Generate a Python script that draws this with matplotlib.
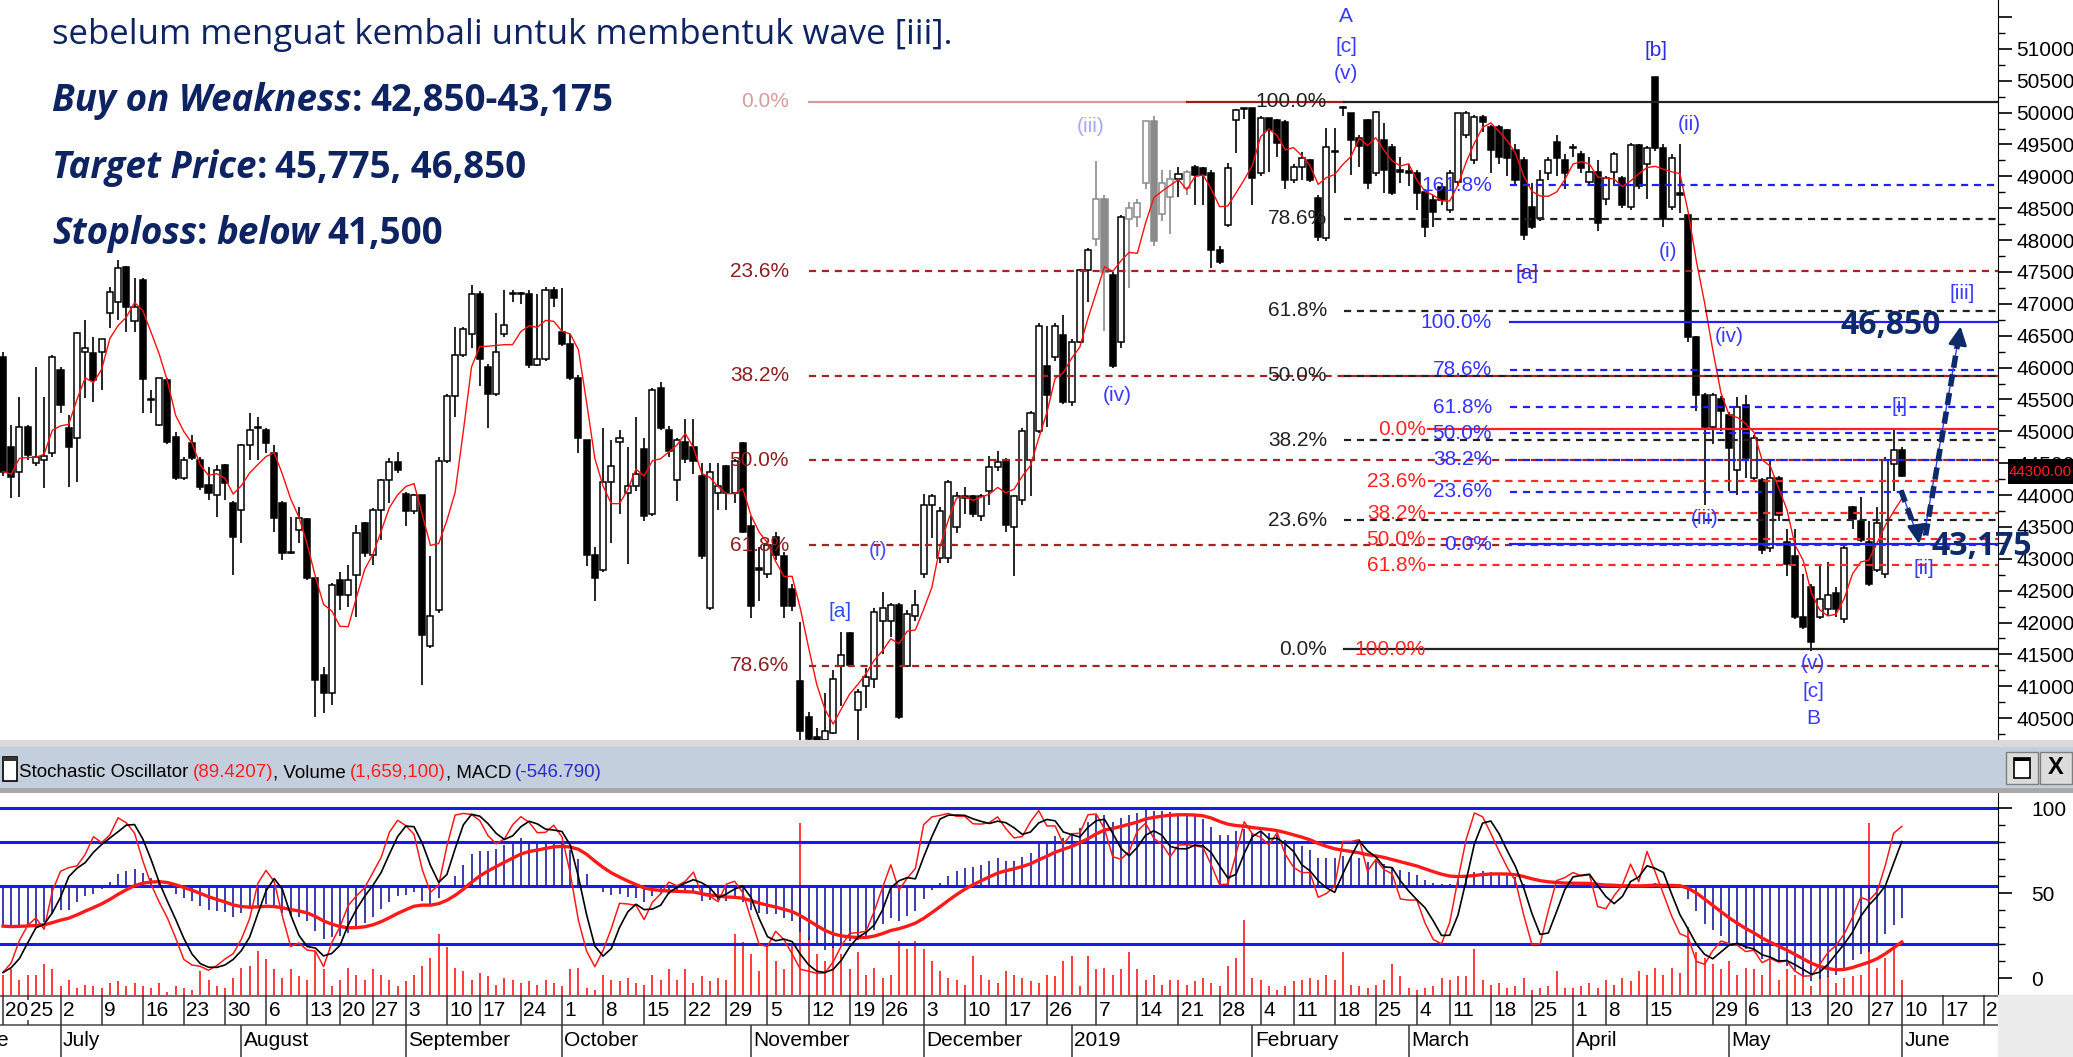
import numpy as np
import pandas as pd
import matplotlib
matplotlib.use('Agg')
import matplotlib.pyplot as plt
from matplotlib.patches import Rectangle
from matplotlib.text import Annotation
from matplotlib import font_manager

# ---------------- data: one entry per trading day, 20 Jun 2018 .. 10 Jun 2019 ----------------
opens = [
    46171, 44759, 44367, 45073, 44497, 44550, 44654, 45962, 45047, 44890,
    46250, 46224, 46250, 46851, 47034, 47583, 46736, 47374, 45491, 45099,
    45805, 44916, 44262, 44812, 44550, 44158, 43995, 44470, 43870, 43766,
    44785, 45047, 45021, 44655, 43870, 43086, 43452, 43620, 42693, 41177,
    40889, 42667, 42432, 42746, 43556, 43060, 43766, 44236, 44524, 44010,
    43757, 44000, 41624, 42195, 44539, 45560, 46191, 46522, 47153, 46011,
    45590, 46522, 47153, 47150, 47153, 46041, 46131, 47213, 46552, 46372,
    45831, 44870, 43066, 42826, 44209, 44840, 44028, 44148, 44720, 43700,
    45680, 45020, 44238, 44840, 44750, 44298, 42225, 44028, 44449, 44028,
    44810, 43517, 42860, 42766, 43336, 43036, 42525, 41083, 40520, 40200,
    40150, 40272, 41323, 41828, 40622, 41008, 41113, 42025, 42017, 42270,
    41323, 42095, 42760, 43847, 43006, 43006, 43496, 43987, 43987, 43672,
    44057, 44442, 44547, 43496, 43917, 44547, 45003, 46020, 46160, 46510,
    45459, 46405, 47527, 48017, 48649, 47457, 46405, 48333, 48368, 48894,
    49876, 48403, 48684, 48964, 48824, 49152, 49126, 49048, 47845, 48237,
    49885, 50060, 50068, 49048, 49911, 49880, 49859, 48943, 49152, 49257,
    48655, 48028, 49388, 50068, 49989, 49600, 49884, 49048, 49571, 49466,
    49100, 49080, 49048, 48760, 48630, 48838, 48472, 48916, 49650, 49257,
    49937, 49780, 49780, 49728, 49414, 49257, 48525, 48342, 49048, 49545,
    49257, 49466, 49353, 48905, 49065, 48649, 49065, 48969, 48521, 49494,
    49193, 50557, 49449, 48521, 48745, 48393, 46472, 45575, 45063, 45500,
    45255, 44390, 45415, 44262, 44230, 43173, 44262, 43269, 43045, 42085,
    42565, 42085, 42213, 42469, 42053, 43814, 43590, 43269, 42821, 42757,
    44486, 44710]
highs = [
    46250, 45100, 45544, 45100, 46010, 45544, 46200, 46015, 45256, 46560,
    46746, 46485, 46450, 47270, 47688, 47600, 47400, 47400, 45648, 45840,
    45830, 44995, 44600, 44942, 44600, 44445, 44470, 44480, 43900, 44800,
    45282, 45230, 45050, 44785, 43900, 43660, 43817, 43640, 42700, 41300,
    42615, 42800, 42900, 43530, 43580, 43800, 44250, 44576, 44680, 44050,
    44010, 44000, 43036, 44600, 45580, 46642, 46642, 47303, 47200, 46050,
    46853, 47213, 47213, 47180, 47213, 47153, 47270, 47270, 47243, 46522,
    45880, 44870, 43186, 45050, 44870, 45020, 44750, 45230, 44900, 45680,
    45770, 45080, 44900, 45200, 45200, 44500, 44500, 44509, 44470, 44560,
    44840, 43667, 43186, 43240, 43420, 43100, 42600, 42015, 40600, 40340,
    40900, 41253, 41849, 41849, 40950, 41288, 42235, 42480, 42300, 42300,
    42200, 42515, 44022, 44022, 43812, 44240, 44050, 44127, 44000, 44022,
    44617, 44687, 44580, 44000, 45050, 45320, 46700, 46650, 46700, 46826,
    46450, 47550, 47870, 49244, 48700, 47500, 48400, 48600, 48650, 49876,
    49950, 49100, 49100, 49140, 49100, 49180, 49140, 49100, 47900, 49205,
    50060, 50080, 50080, 49950, 49920, 49900, 49880, 49200, 49388, 49280,
    48700, 49754, 49754, 50100, 50000, 49650, 49900, 50030, 49830, 49500,
    49300, 49200, 49100, 48800, 48700, 48900, 49100, 50000, 50020, 49960,
    49960, 49800, 49800, 49750, 49500, 49300, 48900, 49100, 49300, 49650,
    49350, 49500, 49400, 49300, 49250, 49000, 49380, 49000, 49520, 49500,
    49480, 50557, 49500, 49353, 49513, 48393, 46500, 45600, 45600, 45550,
    45300, 45543, 45575, 44950, 44262, 44550, 44300, 43461, 43461, 42757,
    42600, 42885, 42949, 42565, 43200, 43830, 43973, 43590, 43814, 44600,
    45031, 44750]
lows = [
    44300, 43949, 43975, 44550, 44450, 44105, 44600, 45282, 44132, 44210,
    45518, 45465, 45650, 46616, 46746, 46564, 46564, 45282, 45282, 45090,
    44800, 44240, 44230, 44550, 44080, 43922, 43661, 43922, 42746, 43243,
    44550, 44550, 44655, 43425, 42980, 43080, 43243, 42670, 40523, 40575,
    40706, 42200, 42250, 42090, 43030, 42900, 43295, 43870, 44340, 43520,
    43700, 41023, 41600, 42150, 44500, 45230, 46160, 46312, 45711, 45050,
    45560, 46480, 47030, 47000, 46000, 46020, 46100, 46950, 46342, 45800,
    44659, 42886, 42345, 42800, 43246, 43700, 42926, 44060, 43600, 43670,
    45020, 44600, 43900, 44510, 44330, 43000, 42200, 43760, 43760, 43880,
    43400, 42075, 42345, 42700, 42980, 42075, 42180, 40062, 40080, 40060,
    40050, 40250, 40693, 41300, 40096, 40657, 40972, 41500, 41779, 40480,
    41300, 42020, 42700, 43321, 42935, 42935, 43400, 43700, 43650, 43600,
    43847, 44370, 43420, 42725, 43850, 43987, 44980, 45073, 46100, 45424,
    45400, 46380, 47036, 47900, 46580, 46000, 46300, 47246, 48200, 48800,
    47913, 48300, 48088, 48684, 48700, 48551, 48551, 47557, 47620, 48200,
    49362, 49900, 48551, 49000, 49074, 49300, 48800, 48900, 48943, 48917,
    47990, 47980, 48734, 49950, 49022, 49150, 48800, 49000, 48734, 48700,
    48900, 48850, 48472, 48054, 48200, 48550, 48420, 48850, 49600, 49200,
    49700, 49050, 49200, 49000, 48850, 48000, 48180, 48300, 48950, 49000,
    48800, 49300, 49050, 48850, 48137, 48550, 48850, 48500, 48480, 48800,
    48650, 49400, 48200, 48480, 48425, 46400, 45318, 43846, 44800, 45000,
    44070, 44006, 44262, 44200, 43077, 43100, 43600, 42725, 42053, 41900,
    41560, 42053, 42100, 42085, 42000, 43461, 43269, 42580, 42800, 42700,
    44070, 44280]
closes = [
    44367, 44289, 45073, 44628, 44600, 44611, 46171, 45413, 44759, 46548,
    46300, 45805, 46443, 47191, 47557, 46956, 46956, 45821, 45500, 45831,
    44838, 44262, 44550, 44576, 44132, 44027, 44393, 44184, 43347, 44785,
    45021, 45060, 44812, 43635, 43086, 43100, 43635, 42694, 41098, 40889,
    42589, 42432, 42667, 43400, 43086, 43766, 44236, 44524, 44393, 43750,
    43998, 41805, 42105, 44539, 45560, 46191, 46612, 47153, 46131, 45590,
    46252, 46672, 47160, 47153, 46041, 46131, 47213, 47093, 46372, 45831,
    44899, 43066, 42706, 44209, 44449, 44900, 44148, 44329, 43667, 45651,
    45050, 44690, 44870, 44570, 44540, 43036, 44359, 44148, 44028, 44539,
    43427, 42255, 42830, 43216, 43066, 42255, 42255, 40292, 40180, 40150,
    40300, 41113, 41498, 41337, 40903, 41148, 42165, 42235, 42270, 40517,
    42130, 42270, 43847, 43987, 43742, 44197, 43987, 43950, 43707, 43987,
    44442, 44512, 43531, 43987, 45003, 45284, 46650, 45564, 46650, 45459,
    46405, 47527, 47843, 48649, 47492, 46020, 48368, 48508, 48578, 49876,
    47983, 48894, 48964, 49034, 49069, 49022, 49022, 47845, 47662, 49126,
    50042, 50068, 48969, 49911, 49728, 49519, 48943, 49152, 49283, 48943,
    48054, 49466, 49400, 50075, 49571, 49480, 48891, 50015, 49100, 48734,
    49074, 49060, 48734, 48211, 48446, 48629, 49048, 49990, 50000, 49937,
    49858, 49414, 49309, 49283, 48943, 48080, 48211, 48943, 49257, 49283,
    49048, 49440, 49129, 49065, 48265, 48969, 49353, 48553, 49494, 48841,
    49449, 49449, 48329, 49290, 48700, 46472, 45575, 45063, 45575, 45318,
    44743, 45383, 44582, 44902, 43141, 44262, 43686, 42917, 42085, 41925,
    41700, 42373, 42437, 42213, 43173, 43621, 43301, 42597, 43558, 44550,
    44710, 44300]
volume_k = [
    2210, 2760, 1660, 2210, 2210, 3310, 2760, 920, 1660, 740,
    1100, 920, 740, 1290, 1470, 920, 1290, 920, 740, 1290,
    370, 920, 740, 550, 2580, 1660, 920, 740, 1840, 2940,
    3130, 4780, 3860, 2760, 1840, 2760, 2020, 1660, 4780, 2760,
    920, 1660, 2940, 2210, 1660, 2760, 2210, 1660, 920, 1470,
    2210, 3130, 4050, 6620, 5150, 2940, 2580, 1660, 2390, 2020,
    1100, 1840, 1660, 1290, 1470, 1100, 1660, 1290, 920, 2760,
    2940, 740, 550, 2210, 1660, 1470, 1840, 1290, 1100, 2210,
    1660, 2760, 1660, 2760, 1290, 2020, 1470, 1840, 1660, 6620,
    5700, 4420, 2580, 5150, 3680, 2760, 5520, 18580, 6260, 4420,
    3680, 5890, 4420, 2760, 4600, 2210, 2940, 1840, 2210, 5890,
    4970, 5890, 4970, 3680, 2580, 1840, 1660, 1100, 4230, 2210,
    1660, 1290, 2580, 2210, 1840, 1470, 1290, 2210, 2020, 3680,
    4230, 920, 4230, 2760, 2940, 2210, 2760, 4600, 2760, 1660,
    2210, 1100, 1660, 1660, 1100, 1470, 1840, 1290, 920, 3130,
    4050, 8100, 1840, 1660, 920, 550, 920, 1470, 1660, 1840,
    1660, 2210, 1660, 4600, 1100, 920, 740, 1100, 1660, 3310,
    2020, 740, 550, 740, 920, 1840, 1660, 2020, 2020, 4970,
    1660, 1100, 1290, 740, 920, 1840, 550, 740, 920, 2580,
    740, 740, 920, 1290, 740, 1660, 1100, 1840, 1470, 2580,
    2210, 2940, 2210, 2940, 2390, 7360, 4600, 4050, 3310, 2760,
    3680, 2210, 2940, 2760, 2210, 4050, 1660, 2760, 2210, 3310,
    920, 2210, 2020, 1290, 1840, 2020, 2210, 18580, 2940, 4050,
    5520, 1659]
gray_bars = [133, 134, 137, 138, 139, 140, 141, 142, 144]

# indicator state at the left edge of the window
ema12_start, ema26_start, signal_start = 45400, 46090, -700

# calendar axis (trading-day index)
week_ticks = [0, 3, 7, 12, 17, 22, 27, 32, 37, 41, 45, 49, 54, 58, 63, 68, 73, 78, 83, 88,
              93, 98, 103, 107, 112, 117, 122, 127, 133, 138, 143, 148, 153, 157, 162, 167,
              172, 176, 181, 186, 191, 195, 200, 208, 212, 217, 222, 227, 231, 236, 241]
week_labels = ['20', '25', '2', '9', '16', '23', '30', '6', '13', '20', '27', '3', '10', '17',
               '24', '1', '8', '15', '22', '29', '5', '12', '19', '26', '3', '10', '17', '26',
               '7', '14', '21', '28', '4', '11', '18', '25', '4', '11', '18', '25', '1', '8',
               '15', '29', '6', '13', '20', '27', '10', '17', '24']
month_ticks = [7, 29, 49, 68, 91, 112, 130, 152, 171, 191, 210, 231]
month_labels = ['July', 'August', 'September', 'October', 'November', 'December', '2019',
                'February', 'March', 'April', 'May', 'June']

# fibonacci anchors
fib_brown = (50170, 38916)          # 0% , 100%
fib_brown_pct = [0.0, 23.6, 38.2, 50.0, 61.8, 78.6]
fib_black = (41580, 50170)          # 0% , 100%
fib_black_pct = [0.0, 23.6, 38.2, 50.0, 61.8, 78.6, 100.0]
fib_red = (45036, 41580)
fib_red_pct = [0.0, 23.6, 38.2, 50.0, 61.8, 100.0]
fib_blue = (43227, 46710)
fib_blue_pct = [0.0, 23.6, 38.2, 50.0, 61.8, 78.6, 100.0, 161.8]

# ---------------- figure ----------------
names = {f.name for f in font_manager.fontManager.ttflist}
NARROW = 'Liberation Sans Narrow' if 'Liberation Sans Narrow' in names else 'Liberation Sans'
plt.rcParams['font.family'] = [NARROW, 'DejaVu Sans']
TXT = 'Open Sans' if 'Open Sans' in names else 'DejaVu Sans'

W, H = 2073, 1057
fig = plt.figure(figsize=(W / 100, H / 100), dpi=100)
fig.patch.set_facecolor('white')


def box(x0, y0, x1, y1):
    return [x0 / W, 1 - y1 / H, (x1 - x0) / W, (y1 - y0) / H]


XL = (-0.365, 242.7)
x = np.arange(len(closes))
o, hi, lo, c = (np.array(a, float) for a in (opens, highs, lows, closes))

ax = fig.add_axes(box(0, 0, 1998, 740))
ax.set_xlim(*XL)
ax.set_ylim(40157, 51767)
for s in ['left', 'top', 'bottom']:
    ax.spines[s].set_visible(False)
ax.set_xticks([])
ax.yaxis.tick_right()
ax.set_yticks(np.arange(40500, 51600, 500))
ax.set_yticklabels([str(v) if v <= 51000 else '' for v in range(40500, 51600, 500)])
ax.set_yticks(np.arange(40250, 51700, 250), minor=True)
ax.tick_params(axis='y', which='major', length=10, width=1.2, labelsize=15, pad=3)
ax.tick_params(axis='y', which='minor', length=5, width=1)

# candles
edge = np.where(np.isin(x, gray_bars), '#8a8a8a', 'black')
face = np.where(c >= o, 'white', np.where(np.isin(x, gray_bars), '#8a8a8a', 'black'))
ax.vlines(x, lo, hi, colors=edge, lw=1.2, zorder=3)
ax.bar(x, np.maximum(np.abs(c - o), 15), bottom=np.minimum(o, c), width=0.74,
       color=face, edgecolor=edge, linewidth=1.1, zorder=4)
ma5 = pd.Series(c).rolling(5, min_periods=1).mean()
ax.plot(x, ma5, color='#ff1010', lw=1.0, zorder=5)


def idx(px):
    return (px - 3) / 8.22


right = XL[1]
dash = (0, (3.2, 2.6))
b0, b1 = fib_brown
for p in fib_brown_pct:
    lv = b0 - p / 100 * (b0 - b1)
    if p == 0:
        ax.plot([idx(809), idx(1187)], [lv, lv], color='#d39a9a', lw=1.6, zorder=5)
        ax.plot([idx(1187), idx(1344)], [lv, lv], color='#a01c1c', lw=1.6, zorder=5)
        ax.text(idx(789), lv, '0.0%', color='#d89a9a', fontsize=15, ha='right', va='center', zorder=6)
    else:
        ax.plot([idx(809), right], [lv, lv], color='#a52323', lw=1.6, ls=dash, zorder=5)
        ax.text(idx(789), lv, f'{p:.1f}%', color='#8c2020', fontsize=15, ha='right', va='center', zorder=6)

k0, k1 = fib_black
for p in fib_black_pct:
    lv = k0 + p / 100 * (k1 - k0)
    solid = p in (0.0, 100.0)
    ax.plot([idx(1344), right], [lv, lv], color='#222222', lw=1.6,
            ls='-' if solid else dash, zorder=5)
    ax.text(idx(1327), lv, f'{p:.1f}%', color='#222222', fontsize=15, ha='right', va='center', zorder=6)

r0, r1 = fib_red
for p in fib_red_pct:
    lv = r0 - p / 100 * (r0 - r1)
    if p == 0:
        ax.plot([idx(1428), right], [lv, lv], color='#ff2222', lw=1.6, zorder=5)
    elif p < 100:
        ax.plot([idx(1428), right], [lv, lv], color='#ff2a2a', lw=1.6, ls=dash, zorder=5)
    ax.text(idx(1426), lv, f'{p:.1f}%', color='#ff2424', fontsize=15, ha='right', va='center', zorder=6)

u0, u1 = fib_blue
for p in fib_blue_pct:
    lv = u0 + p / 100 * (u1 - u0)
    solid = p in (0.0, 100.0)
    ax.plot([idx(1510), right], [lv, lv], color='#1f1fff', lw=1.6,
            ls='-' if solid else dash, zorder=5)
    ax.text(idx(1492), lv, f'{p:.1f}%', color='#3434ff', fontsize=15, ha='right', va='center', zorder=6)

# wave labels
waves = [('A', 163.4, 51506, '#3b3bff'), ('[c]', 163.4, 51035, '#3b3bff'), ('(v)', 163.4, 50617, '#3b3bff'),
         ('[b]', 201.1, 50982, '#2c2ce0'), ('(ii)', 205.2, 49806, '#3b3bff'), ('(i)', 202.6, 47818, '#3b3bff'),
         ('[a]', 185.4, 47478, '#2c2ce0'), ('(iv)', 210.0, 46485, '#3b3bff'), ('(iii)', 207.0, 43640, '#3b3bff'),
         ('[iii]', 238.3, 47165, '#3b3bff'), ('[i]', 230.7, 45386, '#3b3bff'), ('[ii]', 233.7, 42855, '#3b3bff'),
         ('(v)', 220.2, 41365, '#3b3bff'), ('[c]', 220.2, 40925, '#3b3bff'), ('B', 220.2, 40501, '#3b3bff'),
         ('(iii)', 132.3, 49790, '#a8a8ff'), ('(iv)', 135.5, 45569, '#3b3bff'),
         ('(i)', 106.5, 43123, '#4a4aff'), ('[a]', 101.8, 42170, '#2c4cff')]
for s, wx, wy, col in waves:
    ax.text(wx, wy, s, color=col, fontsize=15, ha='center', va='center', zorder=7)

# target arrows
navy = '#0f2a6b'
ax.plot([230.9, 233.0], [44073, 43330], color='#3a3aff', lw=1, zorder=8)
ax.plot([230.9, 233.0], [44073, 43330], color=navy, lw=4, ls=(0, (2.2, 1.2)), zorder=9)
ax.annotate('', xy=(233.15, 43190), xytext=(232.9, 43420),
            arrowprops=dict(arrowstyle='-|>', color=navy, lw=2, mutation_scale=28), zorder=9)
ax.plot([233.7, 238.0], [43367, 46540], color='#3a3aff', lw=1, zorder=8)
ax.plot([233.9, 237.95], [43367, 46500], color=navy, lw=4, ls=(0, (2.2, 1.2)), zorder=9)
ax.annotate('', xy=(238.2, 46690), xytext=(237.9, 46440),
            arrowprops=dict(arrowstyle='-|>', color=navy, lw=2, mutation_scale=28), zorder=9)
ax.text(idx(1891), 46668, '46,850', color=navy, fontsize=23, fontweight='bold',
        family=TXT, ha='center', va='center', zorder=10)
ax.text(idx(1982), 43190, '43,175', color=navy, fontsize=23, fontweight='bold',
        family=TXT, ha='center', va='center', zorder=10, clip_on=False)


# ---------------- panel chrome ----------------
def frect(x0, y0, x1, y1, fc, ec='none', lw=0, z=0):
    fig.patches.append(Rectangle((x0 / W, 1 - y1 / H), (x1 - x0) / W, (y1 - y0) / H,
                                 transform=fig.transFigure, facecolor=fc, edgecolor=ec, lw=lw, zorder=z))


frect(2008, 459, 2073, 484, 'black', z=5)
fig.text(2009 / W, 1 - 472 / H, '44300.00', color='#ff2020', fontsize=10.8, va='center', zorder=6)

frect(0, 740, W, 747, '#d9d9d9')
frect(0, 747, W, 788, '#c3cfdc')
frect(0, 788, W, 793, '#a9a9a9')
frect(3, 757, 17, 781, 'white', 'black', 1.2, 2)
frect(3, 757, 17, 761, '#333333', 'none', 0, 3)
frect(2006, 752, 2038, 784, '#dcdcdc', '#7f7f7f', 1, 2)
frect(2014, 758, 2030, 778, 'white', 'black', 1.2, 3)
frect(2014, 758, 2030, 761, 'black', 'none', 0, 4)
frect(2040, 752, 2072, 784, '#dcdcdc', '#7f7f7f', 1, 2)
fig.text(2056 / W, 1 - 768 / H, 'X', fontsize=17, fontweight='bold', ha='center', va='center', zorder=5)


def chain(parts, x0, y0, **kw):
    s, col, st, wt, gap = parts[0]
    t = fig.text(x0 / W, 1 - y0 / H, s, color=col, style=st, weight=wt, va='bottom', zorder=10, **kw)
    for s, col, st, wt, gap in parts[1:]:
        t = fig.add_artist(Annotation(s, xy=(1, 0), xycoords=t, xytext=(gap, 0),
                                      textcoords='offset points', color=col, style=st, weight=wt,
                                      va='bottom', ha='left', annotation_clip=False, **kw))
        t.set_zorder(10)
    return t


chain([('Stochastic Oscillator', 'black', 'normal', 'normal', 0),
       ('(89.4207)', '#ff2020', 'normal', 'normal', 3),
       (', Volume', 'black', 'normal', 'normal', 0),
       ('(1,659,100)', '#ff2020', 'normal', 'normal', 3),
       (', MACD', 'black', 'normal', 'normal', 0),
       ('(-546.790)', '#2c2cc8', 'normal', 'normal', 3)], 19, 781, fontsize=13.5)

# ---------------- text block ----------------
navy2 = '#0e2462'
fig.text(52 / W, 1 - 52 / H, 'sebelum menguat kembali untuk membentuk wave [iii].', color=navy2,
         fontsize=25, family=TXT, va='bottom')
chain([('Buy on Weakness', navy2, 'italic', 'bold', 0), (':', navy2, 'normal', 'bold', 0),
       ('42,850-43,175', navy2, 'normal', 'bold', 6)], 52, 120, fontsize=26.5, family=TXT)
chain([('Target Price', navy2, 'italic', 'bold', 0), (':', navy2, 'normal', 'bold', 0),
       ('45,775, 46,850', navy2, 'normal', 'bold', 6)], 52, 187, fontsize=26.5, family=TXT)
chain([('Stoploss', navy2, 'italic', 'bold', 0), (':', navy2, 'normal', 'bold', 0),
       ('below', navy2, 'italic', 'bold', 6), ('41,500', navy2, 'normal', 'bold', 6)],
      52, 253, fontsize=26.5, family=TXT)

# ---------------- indicator panel ----------------
ax2 = fig.add_axes(box(0, 793, 1998, 995))
ax2.set_xlim(*XL)
ax2.set_ylim(-9.8, 109)
for s in ['left', 'top', 'bottom']:
    ax2.spines[s].set_visible(False)
ax2.set_xticks([])
ax2.yaxis.tick_right()
ax2.set_yticks([0, 50, 100])
ax2.set_yticks(np.arange(0, 101, 10), minor=True)
ax2.tick_params(axis='y', which='major', length=10, width=1.2, labelsize=15, pad=14)
ax2.tick_params(axis='y', which='minor', length=5, width=1)

cl = pd.Series(c)
hh = pd.Series(hi).rolling(14, min_periods=1).max()
ll = pd.Series(lo).rolling(14, min_periods=1).min()
stoch_k = (100 * (cl - ll) / (hh - ll)).rolling(3, min_periods=1).mean()
stoch_d = stoch_k.rolling(3, min_periods=1).mean()


def ema(values, span, start):
    a = 2 / (span + 1)
    out, prev = [], start
    for v in values:
        prev = prev + a * (v - prev)
        out.append(prev)
    return np.array(out)


macd = ema(c, 12, ema12_start) - ema(c, 26, ema26_start)
signal = ema(macd, 9, signal_start)
zero = 54.5

ax2.vlines(x, -9.8, -9.8 + np.array(volume_k) / 184, colors='#ff1a1a', lw=1.2, zorder=2)
ax2.vlines(x, zero, zero + macd / 29.6, colors='#1b1ba0', lw=1.2, zorder=3)
for lv in [100, 80, zero, 20]:
    ax2.axhline(lv, color='#1a1aee', lw=2.2, zorder=4)
ax2.plot(x, zero + signal / 29.6, color='#ff1a1a', lw=2.4, zorder=5)
ax2.plot(x, stoch_k, color='#ff1a1a', lw=1.1, zorder=6)
ax2.plot(x, stoch_d, color='black', lw=1.2, zorder=7)

# ---------------- date rows ----------------
ax3 = fig.add_axes(box(0, 995, 1998, 1057))
ax3.set_xlim(*XL)
ax3.set_ylim(62, 0)
ax3.axis('off')
frect(1998, 995, W, H, '#ececec')
ax3.axhline(0.5, color='#555555', lw=1.2)
ax3.axhline(30, color='#555555', lw=1.2)
for t, lab in zip(week_ticks, week_labels):
    ax3.vlines(t, 0, 30, color='#333333', lw=1.1)
    ax3.text(t + 0.3, 15, lab, fontsize=15, ha='left', va='center',
             bbox=dict(facecolor='white', edgecolor='none', pad=0.5))
for t, lab in zip(month_ticks, month_labels):
    ax3.vlines(t, 30, 62, color='#333333', lw=1.1)
    ax3.text(t + 0.3, 46, lab, fontsize=15, ha='left', va='center')
ax3.text(0.75, 46, 'June', fontsize=15, ha='right', va='center', clip_on=True)

fig.savefig('out.png', dpi=100)
